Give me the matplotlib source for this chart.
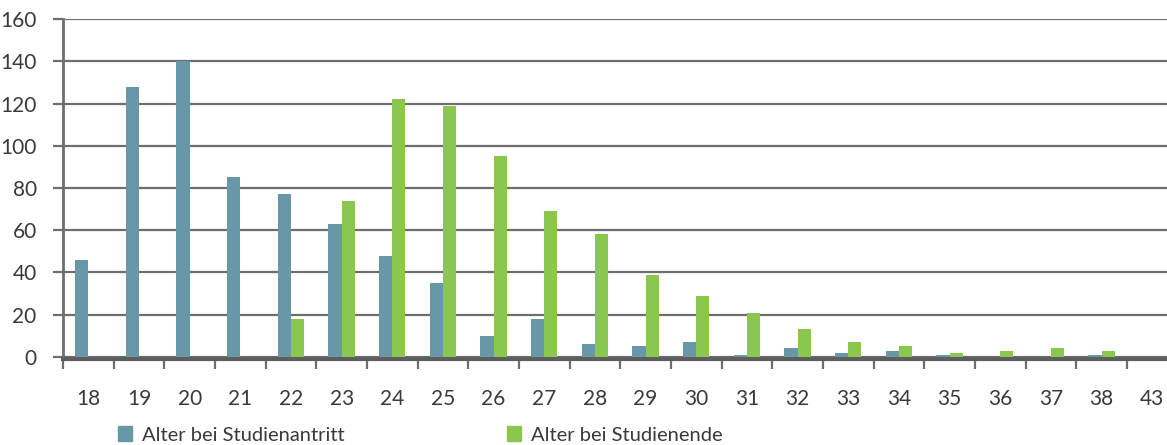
import matplotlib.pyplot as plt
import numpy as np
from matplotlib.patches import Patch

ages = ['18', '19', '20', '21', '22', '23', '24', '25', '26', '27', '28',
        '29', '30', '31', '32', '33', '34', '35', '36', '37', '38', '43']
antritt = [46, 128, 140, 85, 77, 63, 48, 35, 10, 18, 6, 5, 7, 1, 4, 2, 3, 1, 0, 0, 1, 0]
ende = [0, 0, 0, 0, 18, 74, 122, 119, 95, 69, 58, 39, 29, 21, 13, 7, 5, 2, 3, 4, 3, 0]

blue = '#6898a7'
green = '#8bc64e'
txt = '#3a3a3a'
grid = '#6e6e6e'

plt.rcParams['font.family'] = ['Lato', 'DejaVu Sans']

fig = plt.figure(figsize=(11.67, 4.45), dpi=100)
ax = fig.add_axes([0.054, 0.198, 0.955, 0.759])

x = np.arange(len(ages))
w = 0.26
ax.bar(x - w / 2, antritt, w, color=blue, zorder=3)
ax.bar(x + w / 2, ende, w, color=green, zorder=3)

ax.set_xlim(-0.5, len(ages) - 0.5)
ax.set_ylim(0, 160)
ax.set_yticks(np.arange(0, 161, 20))
ax.yaxis.grid(True, color=grid, linewidth=1.6, zorder=0)
ax.tick_params(axis='y', length=7, width=1.6, color=grid, pad=12,
               labelsize=15, labelcolor=txt)

ax.set_xticks(x)
ax.set_xticklabels(ages)
ax.set_xticks(np.arange(-0.5, len(ages), 1), minor=True)
ax.tick_params(axis='x', which='major', length=0, pad=22, labelsize=15, labelcolor=txt)
ax.tick_params(axis='x', which='minor', length=7, width=1.6, color=grid)

for s in ['top', 'right']:
    ax.spines[s].set_visible(False)
ax.spines['left'].set_color(grid)
ax.spines['left'].set_linewidth(2)
ax.spines['bottom'].set_color('#5e5e5e')
ax.spines['bottom'].set_linewidth(3)
ax.spines['bottom'].set_position(('outward', 1.2))

fig.legend([Patch(color=blue)], ['Alter bei Studienantritt'], loc='center left',
           bbox_to_anchor=(0.1011, 0.0225), frameon=False, fontsize=14.5,
           borderpad=0, borderaxespad=0,
           handlelength=0.7, handleheight=0.7, handletextpad=0.5, labelcolor=txt)
fig.legend([Patch(color=green)], ['Alter bei Studienende'], loc='center left',
           bbox_to_anchor=(0.4345, 0.0225), frameon=False, fontsize=14.5,
           borderpad=0, borderaxespad=0,
           handlelength=0.7, handleheight=0.7, handletextpad=0.5, labelcolor=txt)

plt.savefig('out.png', dpi=100)
